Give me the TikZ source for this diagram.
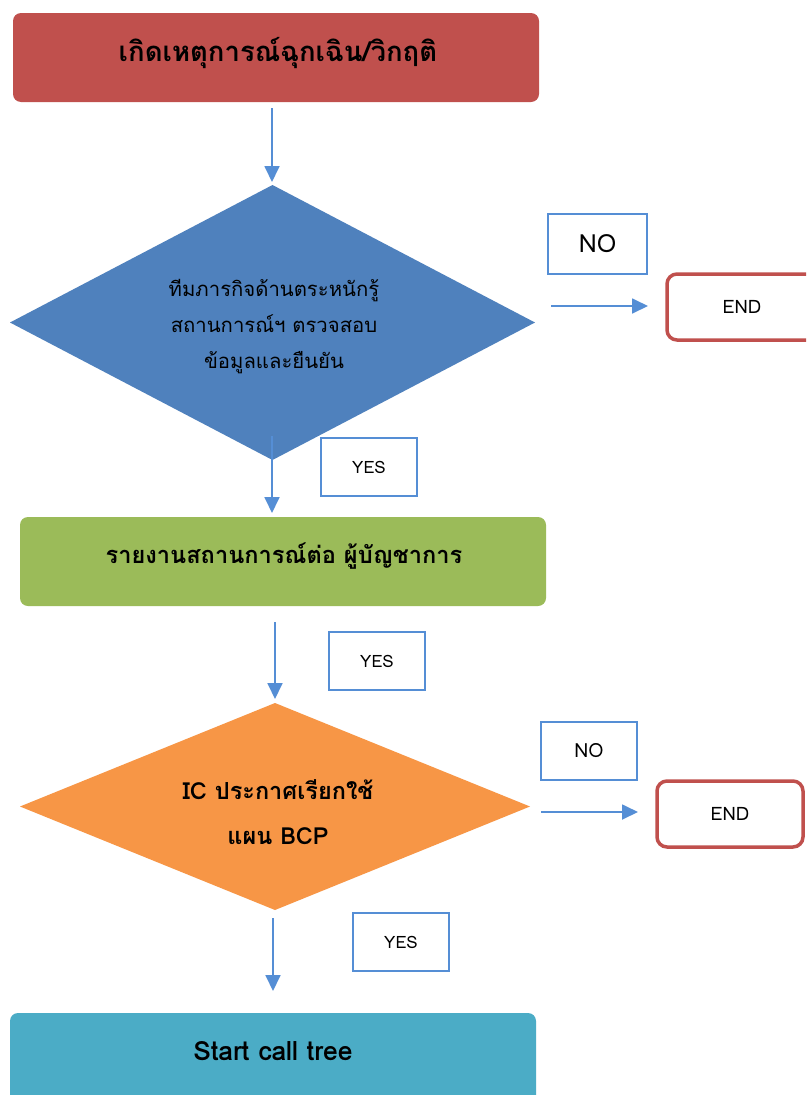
\documentclass[tikz,border=0pt]{standalone}
\usepackage{fontspec}
\setmainfont[Script=Thai]{Loma}
\usetikzlibrary{arrows.meta,shapes.geometric}
\definecolor{cred}{RGB}{192,80,77}
\definecolor{cblue}{RGB}{79,129,189}
\definecolor{cgreen}{RGB}{155,187,89}
\definecolor{corange}{RGB}{247,150,70}
\definecolor{cteal}{RGB}{75,172,198}
\definecolor{carrow}{RGB}{85,142,213}
\begin{document}
\begin{tikzpicture}[x=1pt,y=-1pt,
  procbox/.style={rectangle,rounded corners=8pt,inner sep=0pt,minimum width=526pt,minimum height=89pt},
  decbox/.style={diamond,inner sep=0pt,outer sep=0pt},
  lblbox/.style={rectangle,draw=carrow,line width=1.6pt,fill=white,inner sep=0pt,minimum width=96pt,minimum height=58pt},
  endbox/.style={rectangle,draw=cred,line width=3.5pt,rounded corners=10pt,fill=white,inner sep=0pt,minimum width=146pt,minimum height=66pt,font=\fontsize{18.5}{20}\selectfont},
  arr/.style={draw=carrow,line width=1.8pt,-{Triangle[width=15pt,length=16pt]}},
  bigtxt/.style={font=\bfseries\fontsize{24}{28}\selectfont,align=center},
  yestxt/.style={font=\fontsize{17}{20}\selectfont},
]
\useasboundingbox (0,0) rectangle (806,1095);
\clip (0,0) rectangle (806,1095);
\fill[white] (0,0) rectangle (806,1095);

% top box
\node[procbox,fill=cred] (b1) at (276,57.5) {};
\node[bigtxt,font=\bfseries\fontsize{27.5}{30}\selectfont] (t1) at (278,53) {เกิดเหตุการณ์ฉุกเฉิน/วิกฤติ};

% diamond 1
\node[decbox,fill=cblue,minimum width=525pt,minimum height=275pt] (d1) at (272.5,322.5) {};
\node[font=\fontsize{20.3}{36}\selectfont,align=center] (t2) at (274,327) {ทีมภารกิจด้านตระหนักรู้\\สถานการณ์ฯ ตรวจสอบ\\ข้อมูลและยืนยัน};

\coordinate (a1s) at (272,108);
\coordinate (a1e) at (272,182);
\draw[arr] (a1s) -- (a1e);

\node[lblbox,minimum width=99pt,minimum height=60pt,font=\fontsize{25}{28}\selectfont] (no1) at (597.5,244) {NO};
\coordinate (a2s) at (551,306);
\coordinate (a2e) at (648,306);
\draw[arr] (a2s) -- (a2e);
\node[endbox,minimum width=150pt,minimum height=66pt] (e1) at (742,307) {END};

\coordinate (a3s) at (272,436);
\coordinate (a3e) at (272,513);
\draw[arr] (a3s) -- (a3e);
\node[lblbox,yestxt] (y1) at (369,467) {YES};

% green box
\node[procbox,fill=cgreen] (b2) at (283,561.5) {};
\node[bigtxt,font=\bfseries\fontsize{23.6}{28}\selectfont] (t3) at (284,556) {รายงานสถานการณ์ต่อ ผู้บัญชาการ};

\coordinate (a4s) at (275,622);
\coordinate (a4e) at (275,699);
\draw[arr] (a4s) -- (a4e);
\node[lblbox,yestxt] (y2) at (377,661) {YES};

% diamond 2
\node[decbox,fill=corange,minimum width=510pt,minimum height=207pt] (d2) at (275,806.5) {};
\node[bigtxt,font=\bfseries\fontsize{23.5}{45}\selectfont] (t4) at (278,812) {IC ประกาศเรียกใช้\\แผน BCP};

\node[lblbox,font=\fontsize{19.5}{22}\selectfont] (no2) at (589,751) {NO};
\coordinate (a5s) at (541,812);
\coordinate (a5e) at (638,812);
\draw[arr] (a5s) -- (a5e);
\node[endbox] (e2) at (730,814) {END};

\coordinate (a6s) at (273,918);
\coordinate (a6e) at (273,991);
\draw[arr] (a6s) -- (a6e);
\node[lblbox,yestxt] (y3) at (401,942) {YES};

% teal box
\node[procbox,fill=cteal,minimum height=100pt] (b3) at (273,1063) {};
\node[bigtxt,font=\bfseries\fontsize{26.5}{30}\selectfont] (t5) at (273,1051) {Start call tree};
\end{tikzpicture}
\end{document}
